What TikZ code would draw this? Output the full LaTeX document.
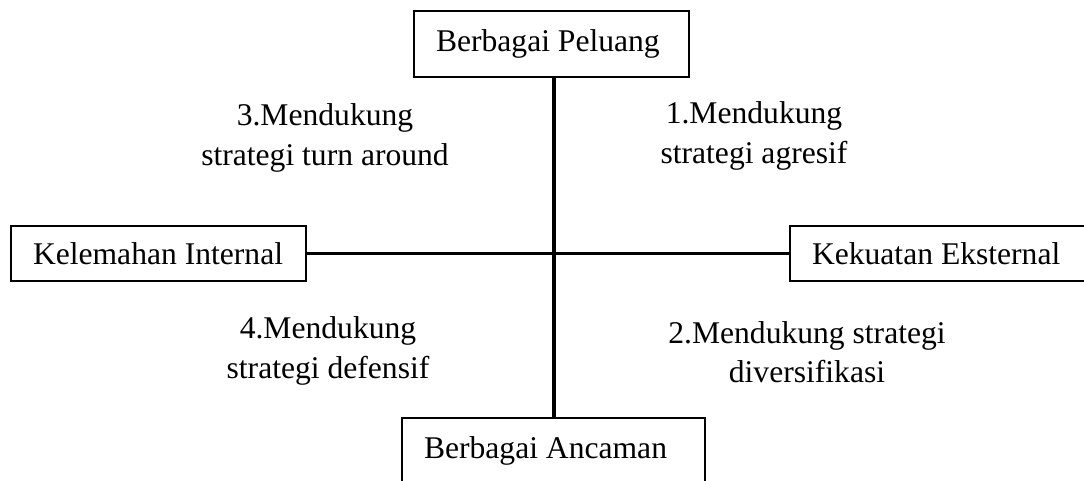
\documentclass[tikz,border=0pt]{standalone}
\usepackage{fontspec}
\setmainfont{Liberation Serif}
\tikzset{
  kotak/.style={draw, line width=1.8pt, inner xsep=22pt, inner ysep=0pt,
    align=flush left, font=\fontsize{31.6}{39.5}\selectfont},
  keterangan/.style={align=center, font=\fontsize{31.6}{39.5}\selectfont},
  garis/.style={line width=3.5pt}
}
\begin{document}
\begin{tikzpicture}[x=1pt,y=-1pt]
    \clip (0,0) rectangle (1084,481);
    % kotak pada keempat ujung
    \node[kotak, text width=231pt, minimum height=66pt] (peluang) at (551.5,44) {Berbagai Peluang};
    \node[kotak, text width=259pt, minimum height=66pt] (ancaman) at (553.5,451) {Berbagai Ancaman};
    \node[kotak, text width=251pt, minimum height=55pt] (kelemahan) at (158.5,253.5) {Kelemahan Internal};
    \node[kotak, text width=256pt, minimum height=55pt] (kekuatan) at (940,253.5) {Kekuatan Eksternal};
    \coordinate (pusat) at (554,253);
    % sumbu
    \draw[garis] (peluang.south -| pusat) -- (ancaman.north -| pusat);
    \draw[garis] (kelemahan.east) -- (kekuatan.west);
    % kuadran
    \node[keterangan] (kuadranA) at (754,136) {1.Mendukung\\strategi agresif};
    \node[keterangan] (kuadranB) at (807,352) {2.Mendukung strategi\\diversifikasi};
    \node[keterangan] (kuadranC) at (325,138) {3.Mendukung\\strategi turn around};
    \node[keterangan] (kuadranD) at (328,351) {4.Mendukung\\strategi defensif};
  \end{tikzpicture}
\end{document}
